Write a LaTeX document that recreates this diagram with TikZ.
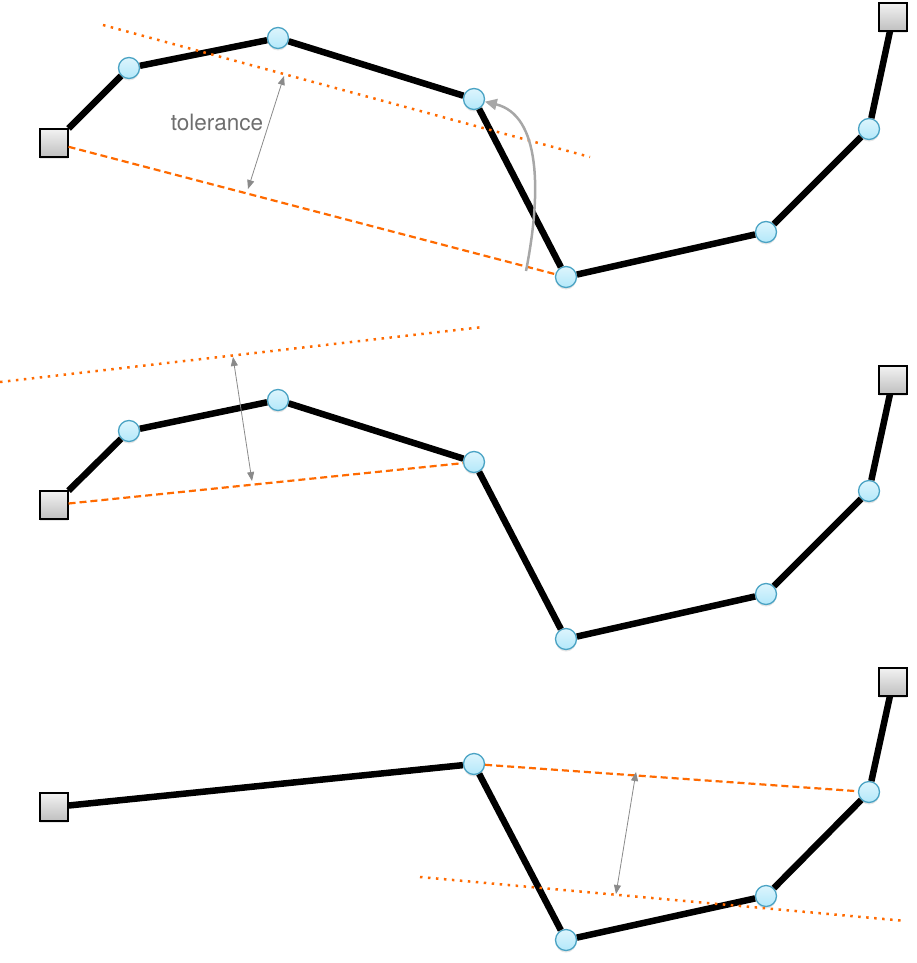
\documentclass[tikz,border=0pt]{standalone}
\usepackage{fontspec}
\setsansfont{TeX Gyre Heros}
\usepackage{xcolor}
\usetikzlibrary{arrows.meta,shadows}
\definecolor{tolorange}{HTML}{FF6A00}
\definecolor{ptborder}{HTML}{4AA3C4}
\definecolor{ptfill}{HTML}{B3E8FA}
\definecolor{arrowgray}{HTML}{8A8A8A}
\definecolor{textgray}{HTML}{6E6E6E}

\begin{document}
\begin{tikzpicture}[x=1pt,y=-1pt,
    pt/.style={circle,draw=ptborder,line width=1.3pt,top color=ptfill!45,bottom color=ptfill,
        minimum size=21pt,inner sep=0pt,drop shadow={shadow xshift=0pt,shadow yshift=-2pt,opacity=0.2}},
    endpt/.style={rectangle,draw=black,line width=1.1pt,top color=gray!10,bottom color=gray!50,
        minimum size=28pt,inner sep=0pt,drop shadow={shadow xshift=0pt,shadow yshift=-2pt,opacity=0.2}},
    polyline/.style={line width=6.5pt,black},
    baseline/.style={tolorange,line width=2.2pt,dash pattern=on 7pt off 4pt},
    bound/.style={tolorange,line width=2.5pt,dash pattern=on 2.5pt off 5.5pt},
    tol/.style={arrowgray,line width=0.8pt,{Triangle[length=9pt,width=7pt]}-{Triangle[length=9pt,width=7pt]}}]
    \useasboundingbox (0,0) rectangle (916,963);

    % first pass
    \node[endpt] (a1) at (54,143) {};
    \node[pt] (p11) at (129,68) {};
    \node[pt] (p12) at (278,38) {};
    \node[pt] (p13) at (474,99) {};
    \node[pt] (p14) at (566,277) {};
    \node[pt] (p15) at (766,232) {};
    \node[pt] (p16) at (869,129) {};
    \node[endpt] (b1) at (893,17) {};
    \draw[polyline] (a1)--(p11)--(p12)--(p13)--(p14)--(p15)--(p16)--(b1);
    \draw[baseline] (a1)--(p14);
    \coordinate (d1s) at (103,25);
    \coordinate (d1e) at (590,157);
    \draw[bound] (d1s)--(d1e);
    \coordinate (t1a) at (248,189);
    \coordinate (t1b) at (284,76);
    \draw[tol] (t1a)--(t1b);
    \node[textgray,font=\sffamily\fontsize{22.5}{26}\selectfont] (lab) at (217,122) {tolerance};
    \coordinate (c1) at (526,271);
    \draw[arrowgray!75,line width=2.5pt,-{Triangle[length=12pt,width=11pt]}]
        (c1) .. controls (542,190) and (540,115) .. (p13);

    % second pass
    \node[endpt] (a2) at (54,505) {};
    \node[pt] (p21) at (129,431) {};
    \node[pt] (p22) at (278,400) {};
    \node[pt] (p23) at (474,462) {};
    \node[pt] (p24) at (566,639) {};
    \node[pt] (p25) at (766,594) {};
    \node[pt] (p26) at (869,491) {};
    \node[endpt] (b2) at (893,380) {};
    \draw[polyline] (a2)--(p21)--(p22)--(p23)--(p24)--(p25)--(p26)--(b2);
    \draw[baseline] (a2)--(p23);
    \coordinate (d2s) at (0,382);
    \coordinate (d2e) at (483,327);
    \draw[bound] (d2s)--(d2e);
    \coordinate (t2a) at (252,481);
    \coordinate (t2b) at (233,357);
    \draw[tol] (t2a)--(t2b);

    % third pass
    \node[endpt] (a3) at (54,807) {};
    \node[pt] (p33) at (474,764) {};
    \node[pt] (p34) at (566,940) {};
    \node[pt] (p35) at (766,896) {};
    \node[pt] (p36) at (869,792) {};
    \node[endpt] (b3) at (893,682) {};
    \draw[polyline] (a3)--(p33)--(p34)--(p35)--(p36)--(b3);
    \draw[baseline] (p33)--(p36);
    \coordinate (d3s) at (420,877);
    \coordinate (d3e) at (906,921);
    \draw[bound] (d3s)--(d3e);
    \coordinate (t3a) at (636,772);
    \coordinate (t3b) at (616,894);
    \draw[tol] (t3a)--(t3b);

\end{tikzpicture}
\end{document}
